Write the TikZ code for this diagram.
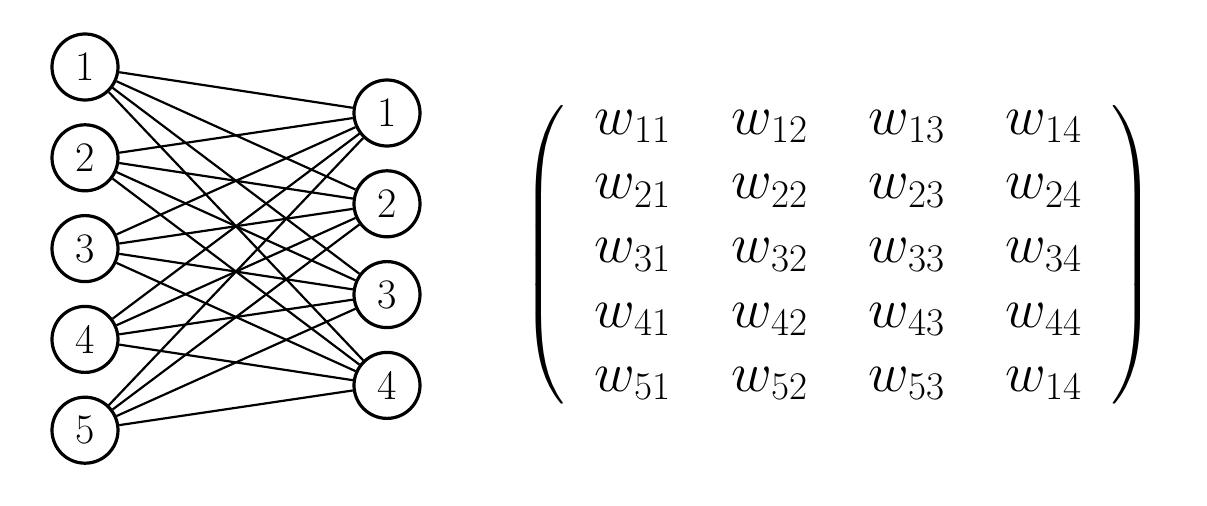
\documentclass[tikz,border=0pt]{standalone}
\usepackage{fix-cm}
\usepackage{exscale}
\usetikzlibrary{positioning, matrix}

\tikzset{
  unit/.style={circle, draw=black, line width=1.6pt, minimum size=33pt, inner sep=0pt, text=black, font=\rmfamily\fontsize{21}{25}\selectfont},
  link/.style={line width=1.1pt},
  every delimiter/.style={font=\fontsize{25}{30}\selectfont},
}

\begin{document}
\begin{tikzpicture}[x=0.5pt, y=0.5pt, node distance=10.8pt]
    \useasboundingbox (0,0) rectangle (1207,505);
    % input layer
    \node (l1) [unit] at (85,438) {1};%first input
    \node (l2) [unit, below=of l1] {2};
    \node (l3) [unit, below=of l2] {3};
    \node (l4) [unit, below=of l3] {4};
    \node (l5) [unit, below=of l4] {5};
    % output layer
    \node (r1) [unit] at (387,392) {1};%first output
    \node (r2) [unit, below=of r1] {2};
    \node (r3) [unit, below=of r2] {3};
    \node (r4) [unit, below=of r3] {4};
    % every input to every output
    \foreach \i in {1,...,5}
      \foreach \j in {1,...,4}
        \draw[link] (l\i) -- (r\j);
    % =============== weight matrix ====================
    \matrix (W) [matrix of math nodes,
                 nodes={anchor=base, inner sep=2pt, font=\fontsize{28}{34}\selectfont},
                 row sep={32.1pt,between origins},
                 column sep={68.5pt,between origins},
                 inner xsep=11.5pt, inner ysep=2pt,
                 left delimiter=(, right delimiter=)] at (838.5,250) {
      w_{11} & w_{12} & w_{13} & w_{14} \\
      w_{21} & w_{22} & w_{23} & w_{24} \\
      w_{31} & w_{32} & w_{33} & w_{34} \\
      w_{41} & w_{42} & w_{43} & w_{44} \\
      w_{51} & w_{52} & w_{53} & w_{14} \\
    };
\end{tikzpicture}
\end{document}
